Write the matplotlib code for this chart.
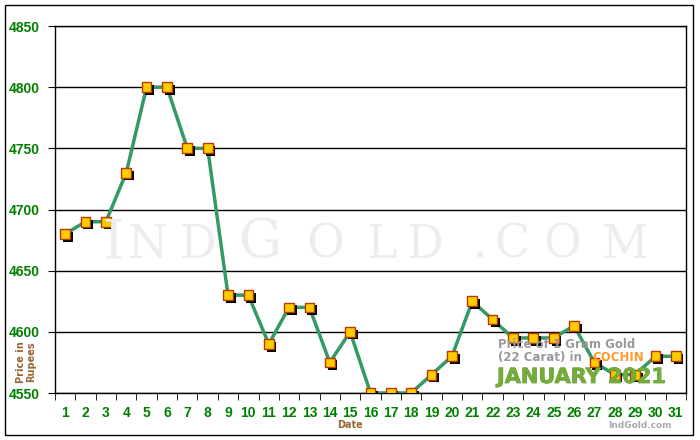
import matplotlib
matplotlib.use("Agg")
import matplotlib.pyplot as plt
import matplotlib.patheffects as pe
from matplotlib.patches import Rectangle

days = list(range(1, 32))
prices = [4680, 4690, 4690, 4730, 4800, 4800, 4750, 4750, 4630, 4630,
          4590, 4620, 4620, 4575, 4600, 4550, 4550, 4550, 4565, 4580,
          4625, 4610, 4595, 4595, 4595, 4605, 4575, 4565, 4565, 4580, 4580]
yticks = [4550, 4600, 4650, 4700, 4750, 4800, 4850]
watermark = "INDGOLD.COM"

TICKFONT = ["Liberation Sans Narrow", "Liberation Sans", "DejaVu Sans"]

fig = plt.figure(figsize=(7, 4.4), dpi=100)
fig.patches.append(Rectangle((5/700, 5/440), 688/700, 430/440, transform=fig.transFigure,
                             fill=False, edgecolor="black", linewidth=1))
ax = fig.add_axes([55/700, 1 - 393/440, 631/700, 367/440])
ax.set_xlim(0.5, 31.5)
ax.set_ylim(4550, 4850)

for y in yticks:
    ax.axhline(y, color="black", linewidth=1, zorder=1)

# watermark letters (small caps look)
wm_x = [114, 148, 198, 261, 325, 382, 425, 480, 512, 562, 625]
big = {0, 3}
for i, (ch, xp) in enumerate(zip(watermark, wm_x)):
    fig.text(xp/700, 1 - 258/440, ch, ha="center", va="baseline",
             fontsize=39 if i in big else 33, family="DejaVu Serif",
             color="#ededed", zorder=0)

ax.set_facecolor("none")
ax.plot(days, prices, color="#339966", linewidth=2.5, zorder=3)
shadow = [pe.SimplePatchShadow(offset=(2, -2), shadow_rgbFace="black", alpha=1.0), pe.Normal()]
ax.plot(days, prices, linestyle="none", marker="s", markersize=7,
        markerfacecolor="#FFCC00", markeredgecolor="#B83A00", markeredgewidth=1,
        zorder=4, path_effects=shadow)

ax.set_yticks(yticks)
ax.set_yticklabels([str(v) for v in yticks])
ax.set_xticks(days)
ax.set_xticklabels([str(d) for d in days])
ax.set_xticks([d + 0.5 for d in range(0, 32)], minor=True)
ax.tick_params(axis="x", which="major", length=0, pad=9)
ax.tick_params(axis="x", which="minor", length=5, direction="out")
ax.tick_params(axis="y", length=5, direction="out", pad=6)
for lab in ax.get_xticklabels() + ax.get_yticklabels():
    lab.set_color("#008000")
    lab.set_fontweight("bold")
    lab.set_fontsize(10)
    lab.set_family(TICKFONT)
for s in ax.spines.values():
    s.set_color("black")
    s.set_linewidth(1)

fig.text(26/700, 1 - 362/440, "Price in\nRupees", rotation=90, ha="center", va="center",
         color="#996633", fontsize=7, fontweight="bold", linespacing=1.0)
fig.text(350/700, 1 - 425/440, "Date", ha="center", va="center",
         color="#996633", fontsize=7, fontweight="bold")
fig.text(640/700, 1 - 425/440, "IndGold.com", ha="center", va="center",
         color="#aaaaaa", fontsize=6.5, fontweight="bold")

fig.text(498/700, 1 - 344/440, "Price of 1 Gram Gold", ha="left", va="center",
         color="#999999", fontsize=8.5, fontweight="bold", zorder=5)
fig.text(498/700, 1 - 357/440, "(22 Carat) in ", ha="left", va="center",
         color="#999999", fontsize=8.5, fontweight="bold", zorder=5)
fig.text(592/700, 1 - 357/440, "COCHIN", ha="left", va="center",
         color="#FF9933", fontsize=8.5, fontweight="bold", zorder=5)
fig.text(497/700, 1 - 377/440, "JANUARY 2021", ha="left", va="center",
         color="#74ad3c", fontsize=15, fontweight="bold", zorder=5,
         path_effects=[pe.withStroke(linewidth=0.5, foreground="#5a8f2a")])

fig.savefig("out.png", dpi=100)
